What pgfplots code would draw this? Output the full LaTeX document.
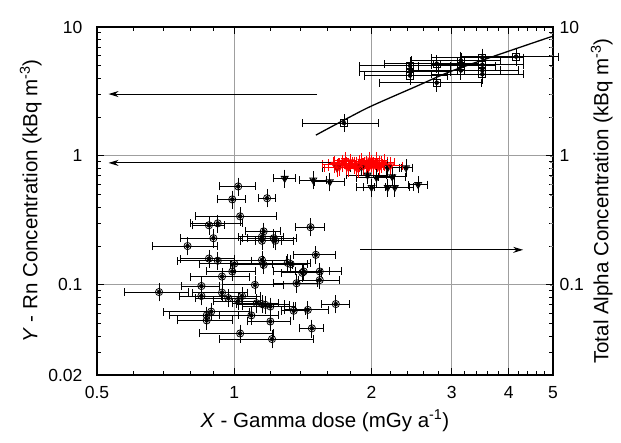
\documentclass[border=0pt]{standalone}
\usepackage{fontspec}
\setmainfont{Liberation Sans}
\usepackage{pgfplots}
\usepackage{pgfplotstable}
\pgfplotsset{compat=1.18}
\usetikzlibrary{arrows.meta}

% x y ex ey
\pgfplotstableread{
x y ex ey
1.74 1.80 0.33 0.16
2.43 5.0 0.55 0.45
2.43 4.5 0.55 0.40
2.43 4.2 0.50 0.38
2.78 5.2 0.65 0.46
2.78 3.7 0.70 0.33
3.14 5.5 0.70 0.49
3.14 5.0 0.60 0.45
3.14 4.6 0.70 0.41
3.50 5.8 0.80 0.52
3.50 5.1 0.80 0.46
3.50 4.6 0.70 0.41
3.50 4.3 0.80 0.39
4.15 5.9 1.00 0.53
}\squares

\pgfplotstableread{
x y ex ey
1.29 0.67 0.07 0.06
1.49 0.65 0.10 0.06
1.62 0.63 0.12 0.06
1.68 0.81 0.12 0.07
1.90 0.82 0.10 0.07
2.00 0.57 0.15 0.05
2.05 0.68 0.20 0.06
2.17 0.81 0.15 0.07
2.17 0.57 0.25 0.05
2.25 0.57 0.22 0.05
2.22 0.69 0.15 0.06
2.38 0.81 0.08 0.07
2.53 0.60 0.12 0.05
1.96 0.71 0.20 0.06
}\tris

\pgfplotstableread{
x y ex ey
1.66 0.86 0.10 0.07
1.70 0.82 0.09 0.07
1.73 0.88 0.12 0.07
1.76 0.84 0.08 0.07
1.78 0.81 0.10 0.07
1.80 0.90 0.11 0.07
1.83 0.85 0.09 0.07
1.85 0.82 0.12 0.07
1.88 0.87 0.10 0.07
1.90 0.91 0.08 0.07
1.92 0.83 0.12 0.07
1.95 0.86 0.10 0.07
1.97 0.81 0.09 0.07
2.00 0.88 0.11 0.07
2.02 0.84 0.10 0.07
2.05 0.92 0.12 0.07
2.08 0.82 0.08 0.07
2.10 0.86 0.10 0.07
2.13 0.89 0.12 0.07
1.75 0.92 0.10 0.07
1.87 0.80 0.09 0.07
2.20 0.84 0.14 0.07
1.68 0.81 0.10 0.07
1.98 0.93 0.10 0.07
}\reds

\pgfplotstableread{
x y ex ey
1.02 0.58 0.09 0.052
0.99 0.46 0.07 0.041
1.18 0.47 0.05 0.042
1.03 0.34 0.21 0.031
0.92 0.30 0.12 0.027
0.88 0.29 0.07 0.026
0.90 0.23 0.14 0.021
0.79 0.20 0.13 0.018
0.92 0.154 0.17 0.014
1.00 0.146 0.16 0.013
0.99 0.127 0.12 0.011
0.94 0.116 0.14 0.010
1.15 0.236 0.13 0.021
1.15 0.22 0.12 0.020
1.16 0.26 0.10 0.023
1.23 0.22 0.12 0.020
1.15 0.156 0.15 0.014
1.16 0.143 0.18 0.013
0.684 0.088 0.11 0.0080
0.847 0.098 0.08 0.0090
0.847 0.082 0.09 0.0074
0.94 0.087 0.13 0.0078
0.97 0.079 0.15 0.0071
1.02 0.075 0.12 0.0068
1.04 0.082 0.10 0.0074
1.11 0.100 0.17 0.0090
1.12 0.072 0.13 0.0065
1.15 0.071 0.14 0.0064
1.17 0.070 0.15 0.0063
1.20 0.068 0.16 0.0061
1.37 0.103 0.15 0.0093
1.41 0.124 0.14 0.011
1.54 0.109 0.16 0.0098
1.54 0.127 0.18 0.011
1.67 0.071 0.12 0.0064
1.45 0.064 0.16 0.0058
1.35 0.063 0.08 0.0057
0.89 0.062 0.19 0.0056
0.87 0.058 0.15 0.0052
0.87 0.053 0.12 0.0048
1.09 0.058 0.16 0.0052
1.20 0.052 0.13 0.0047
1.48 0.046 0.09 0.0041
1.03 0.042 0.19 0.0038
1.21 0.038 0.28 0.0034
1.47 0.28 0.11 0.025
1.22 0.23 0.15 0.021
1.51 0.171 0.16 0.015
1.31 0.148 0.16 0.013
1.33 0.145 0.12 0.013
1.42 0.127 0.20 0.011
0.88 0.16 0.12 0.014
}\circs

\begin{document}
\begin{tikzpicture}
\begin{loglogaxis}[
  width=456pt, height=348pt, scale only axis,
  xmin=0.5, xmax=5, ymin=0.02, ymax=10,
  tick label style={font=\fontsize{17.5}{20}\selectfont},
  label style={font=\fontsize{20.5}{24}\selectfont},
  yticklabel style={xshift=-11pt},
  xticklabel style={yshift=-8pt},
  /pgf/number format/assume math mode=true,
  axis line style={line width=1.1pt},
  major tick length=7pt, minor tick length=4pt,
  every tick/.style={black, line width=0.9pt},
  xtick={0.5,1,2,3,4,5}, xticklabels={0.5,1,2,3,4,5},
  minor xtick={0.6,0.7,0.8,0.9,1.2,1.4,1.6,1.8,2.2,2.4,2.6,2.8,3.2,3.4,3.6,3.8,4.2,4.4,4.6,4.8},
  ytick={0.02,0.1,1,10}, yticklabels={0.02,0.1,1,10},
  minor ytick={0.03,0.04,0.05,0.06,0.07,0.08,0.09,0.2,0.3,0.4,0.5,0.6,0.7,0.8,0.9,2,3,4,5,6,7,8,9},
  xticklabel pos=lower, yticklabel pos=left,
  xtick pos=both, ytick pos=both,
  xmajorgrids, ymajorgrids,
  grid style={draw=gray!75, line width=0.9pt},
  xlabel={\textit{X} - Gamma dose (mGy a\textsuperscript{-1})},
  ylabel={\textit{Y} - Rn Concentration (kBq m\textsuperscript{-3})},
  xlabel style={yshift=-4pt},
  error bars/error bar style={line width=0.8pt},
  clip=false]
  \coordinate (bl) at (rel axis cs:0,0);
  \coordinate (tr) at (rel axis cs:1,1);

  % horizontal error bars (caps drawn as vertical strokes)
  \addplot[black, only marks, mark=none, forget plot,
    error bars/.cd, x dir=both, x explicit, error mark=|, error mark options={mark size=4pt, line width=0.8pt}]
    table[x=x, y=y, x error=ex] {\circs};
  \addplot[black, only marks, mark=none, forget plot,
    error bars/.cd, x dir=both, x explicit, error mark=|, error mark options={mark size=4pt, line width=0.8pt}]
    table[x=x, y=y, x error=ex] {\tris};
  \addplot[red, only marks, mark=none, forget plot,
    error bars/.cd, x dir=both, x explicit, error mark=|, error mark options={mark size=4pt, line width=0.8pt}]
    table[x=x, y=y, x error=ex] {\reds};
  \addplot[black, only marks, mark=none, forget plot,
    error bars/.cd, x dir=both, x explicit, error mark=|, error mark options={mark size=4pt, line width=0.8pt}]
    table[x=x, y=y, x error=ex] {\squares};

  % markers with vertical error bars
  \addplot[black, only marks, mark=o, mark size=3.6pt, line width=0.8pt,
    error bars/.cd, y dir=both, y explicit, error mark=-, error mark options={mark size=4pt, line width=0.8pt}]
    table[x=x, y=y, y error=ey] {\circs};
  \addplot[black, only marks, mark=triangle, mark size=4pt, mark options={rotate=180}, line width=0.8pt,
    error bars/.cd, y dir=both, y explicit, error mark=-, error mark options={mark size=4pt, line width=0.8pt}]
    table[x=x, y=y, y error=ey] {\tris};
  \addplot[red, only marks, mark=triangle, mark size=4pt, mark options={rotate=180}, line width=0.8pt,
    error bars/.cd, y dir=both, y explicit, error mark=-, error mark options={mark size=4pt, line width=0.8pt}]
    table[x=x, y=y, y error=ey] {\reds};
  \addplot[black, only marks, mark=square, mark size=3.5pt, line width=0.8pt,
    error bars/.cd, y dir=both, y explicit, error mark=-, error mark options={mark size=4pt, line width=0.8pt}]
    table[x=x, y=y, y error=ey] {\squares};

  \addplot[black, line width=1.3pt, smooth, mark=none] coordinates {
    (1.51,1.45)(1.6,1.62)(1.8,2.02)(2,2.44)(2.5,3.45)(3,4.56)(4,6.5)(5,8.5)};

  \draw[-{Stealth[length=10pt,width=6pt]}, line width=1pt] (axis cs:1.52,3.02) -- (axis cs:0.53,3.02);
  \draw[-{Stealth[length=10pt,width=6pt]}, line width=1pt] (axis cs:1.66,0.883) -- (axis cs:0.53,0.883);
  \draw[-{Stealth[length=10pt,width=6pt]}, line width=1pt] (axis cs:1.89,0.187) -- (axis cs:4.3,0.187);
\end{loglogaxis}
\begin{loglogaxis}[
  width=456pt, height=348pt, scale only axis,
  xmin=0.5, xmax=5, ymin=0.02, ymax=10,
  tick label style={font=\fontsize{17.5}{20}\selectfont},
  label style={font=\fontsize{20.5}{24}\selectfont},
  yticklabel style={xshift=3pt},
  /pgf/number format/assume math mode=true,
  axis x line=none, axis y line*=right,
  axis line style={draw=none},
  ytick={0.1,1,10}, yticklabels={0.1,1,10}, minor ytick={},
  major tick length=0pt,
  ylabel={Total Alpha Concentration (kBq m\textsuperscript{-3})}]
  \addplot[draw=none, mark=none] coordinates {(1,1)};
\end{loglogaxis}
\pgfresetboundingbox
\path (bl) ++(-97pt,-67pt) coordinate (p1);
\path (tr) ++(68pt,27pt) coordinate (p2);
\useasboundingbox (p1) rectangle (p2);
\end{tikzpicture}
\end{document}
